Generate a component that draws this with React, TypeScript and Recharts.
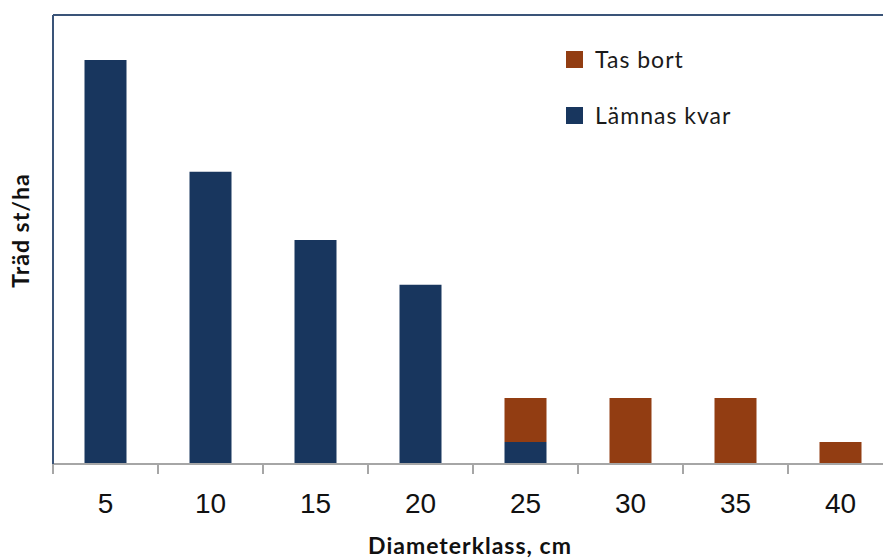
import React from 'react';
import { BarChart, Bar, XAxis, YAxis, Legend, Label } from 'recharts';

const categories = ['5', '10', '15', '20', '25', '30', '35', '40'];
const lamnasKvar = [918, 664, 509, 407, 50, 0, 0, 0];
const tasBort = [0, 0, 0, 0, 100, 150, 150, 50];
const yDomain = [0, 1020];

const data = categories.map((c, i) => ({ klass: c, lamnas: lamnasKvar[i], tas: tasBort[i] }));

const BLUE = '#18365E';
const ORANGE = '#923D12';
const FRAME = '#3A5478';
const AXIS_GRAY = '#A6A6A6';
const TICK_SIZE = 10;
const TICK_MARGIN = 19;

const BoundaryTick = (props: any) => {
  const { x, y, payload } = props;
  const half = payload && typeof payload.offset === 'number' ? payload.offset : 0;
  const axisY = y - TICK_SIZE - TICK_MARGIN;
  return (
    <g>
      <line x1={x - half} x2={x - half} y1={axisY} y2={axisY + TICK_SIZE} stroke={AXIS_GRAY} strokeWidth={2} />
      <text
        x={x}
        y={y}
        dy="0.71em"
        textAnchor="middle"
        fill="#111"
        style={{ fontFamily: '"Liberation Sans", Arial, sans-serif', fontSize: 28 }}
      >
        {payload.value}
      </text>
    </g>
  );
};

const LegendContent = (props: any) => {
  const items = [...(props.payload || [])].reverse();
  return (
    <div>
      {items.map((it: any) => (
        <div key={it.value} style={{ display: 'flex', alignItems: 'center', height: 28, marginBottom: 28 }}>
          <div style={{ width: 17, height: 17, background: it.color, marginRight: 12 }} />
          <span
            style={{
              fontFamily: 'Lato, "Open Sans", sans-serif',
              fontSize: 23,
              letterSpacing: 1,
              color: '#1a1a1a',
            }}
          >
            {it.value}
          </span>
        </div>
      ))}
    </div>
  );
};

export default function App() {
  return (
    <div style={{ position: 'absolute', left: 0, top: 0, width: 883, height: 560, overflow: 'hidden', background: '#fff' }}>
      <BarChart
        width={900}
        height={560}
        data={data}
        margin={{ top: 14, right: 7, bottom: 0, left: 52 }}
        barCategoryGap="30%"
      >
        <XAxis
          dataKey="klass"
          height={96}
          tickLine={false}
          tickSize={TICK_SIZE}
          tickMargin={TICK_MARGIN}
          axisLine={{ stroke: AXIS_GRAY, strokeWidth: 2 }}
          tick={<BoundaryTick />}
          interval={0}
        >
          <Label
            content={(p: any) => {
              const vb = p.viewBox || {};
              return (
                <text
                  x={vb.x + vb.width / 2 - 3}
                  y={vb.y + 90}
                  textAnchor="middle"
                  fill="#111"
                  style={{ fontFamily: 'Lato, "Open Sans", sans-serif', fontSize: 23, fontWeight: 700, letterSpacing: 1 }}
                >
                  Diameterklass, cm
                </text>
              );
            }}
          />
        </XAxis>
        <XAxis
          xAxisId="top"
          dataKey="klass"
          orientation="top"
          height={1}
          tick={false}
          tickLine={false}
          axisLine={{ stroke: FRAME, strokeWidth: 2 }}
        />
        <YAxis
          width={1}
          domain={yDomain}
          tick={false}
          tickLine={false}
          axisLine={{ stroke: FRAME, strokeWidth: 2 }}
        >
          <Label
            content={(p: any) => {
              const vb = p.viewBox || {};
              const cx = vb.x - 32;
              const cy = vb.y + vb.height / 2 - 9;
              return (
                <text
                  x={cx}
                  y={cy}
                  transform={`rotate(-90, ${cx}, ${cy})`}
                  textAnchor="middle"
                  dominantBaseline="central"
                  fill="#111"
                  style={{ fontFamily: 'Lato, "Open Sans", sans-serif', fontSize: 23, fontWeight: 700, letterSpacing: 1 }}
                >
                  Träd st/ha
                </text>
              );
            }}
          />
        </YAxis>
        <Legend
          layout="horizontal"
          verticalAlign="middle"
          align="center"
          content={<LegendContent />}
          wrapperStyle={{ left: 566, top: 45, width: 'auto', height: 'auto' }}
        />
        <Bar dataKey="lamnas" name="Lämnas kvar" stackId="a" fill={BLUE} isAnimationActive={false} />
        <Bar dataKey="tas" name="Tas bort" stackId="a" fill={ORANGE} isAnimationActive={false} />
      </BarChart>
    </div>
  );
}
